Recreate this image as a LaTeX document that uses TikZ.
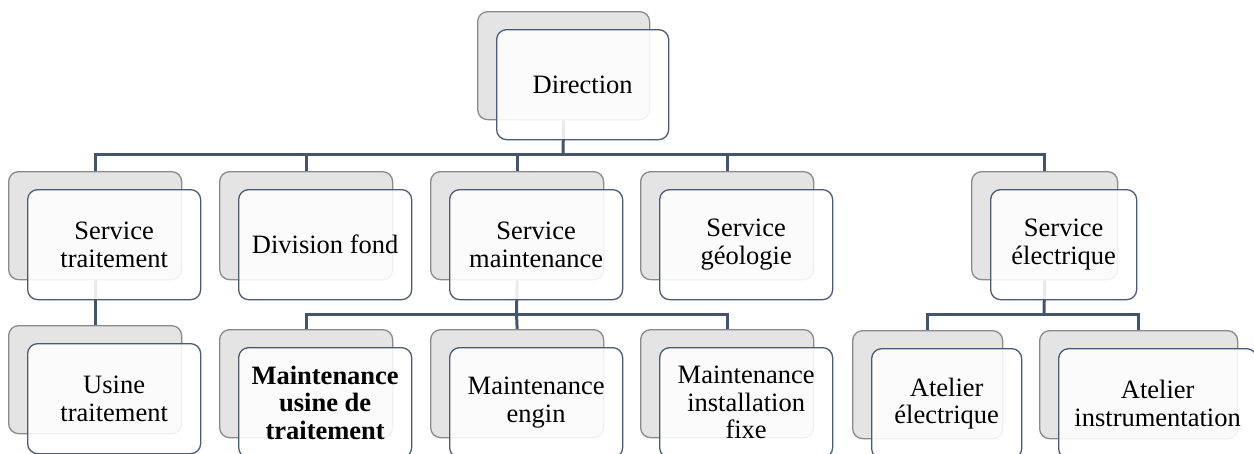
\documentclass[tikz,border=0pt]{standalone}
\usepackage{fontspec}
\usetikzlibrary{backgrounds}
\setmainfont{Liberation Serif}
\newfontfamily\cardserif{Liberation Serif}
\definecolor{backfill}{HTML}{E4E4E4}
\definecolor{backline}{HTML}{8A8A8A}
\definecolor{frontline}{HTML}{4B5A70}
\definecolor{linkc}{HTML}{44546A}
\newcommand{\boxfont}{\cardserif\fontsize{26.5}{27.5}\selectfont}
\tikzset{
  back/.style={draw=backline, fill=backfill, line width=1.3pt, rounded corners=10pt,
    anchor=north west, inner sep=0pt, minimum height=108pt},
  front/.style={draw=frontline, fill=white, fill opacity=0.88, text opacity=1,
    line width=1.3pt, rounded corners=10pt, anchor=north west, inner sep=0pt,
    minimum height=110pt, align=center, font=\boxfont},
  link/.style={draw=linkc, line width=3pt}
}
% a card = grey back plate + white front plate shifted by (19,18)
\newcommand{\card}[5]{% name, x, y, width, text
  \node[back, minimum width=#4pt] (#1b) at (#2,#3) {};
  \node[front, minimum width=#4pt] (#1) at (#2+19,#3+18) {#5};
}
\begin{document}
\begin{tikzpicture}[x=1pt,y=-1pt]
\path[use as bounding box] (0,0) rectangle (1254,453);
\clip (0,0) rectangle (1254,453);

% --- top level
\card{dir}{477}{11}{172}{Direction}
% --- services
\card{st}{8}{171}{173}{Service\\traitement}
\card{df}{219}{171}{173}{Division fond}
\card{sm}{430}{171}{173}{Service\\maintenance}
\card{sg}{640}{171}{173}{Service\\géologie}
\card{se}{971}{171}{146}{Service\\électrique}
% --- units
\card{ut}{8}{325}{173}{Usine\\traitement}
\card{mu}{219}{329}{173}{\bfseries Maintenance\\\bfseries usine de\\\bfseries traitement}
\card{me}{430}{329}{173}{Maintenance\\engin}
\card{mi}{640}{329}{173}{Maintenance\\installation\\fixe}
\card{ae}{852}{330}{150}{Atelier\\électrique}
\card{ai}{1039}{330}{198}{Atelier\\instrumentation}

% --- connectors, behind the plates
\begin{scope}[on background layer]
  \coordinate (bar1) at (563,154);
  \coordinate (bar2) at (516.5,314);
  \coordinate (bar3) at (1044,314);
  \draw[link] (dirb.south) -- (bar1);
  \draw[link] (stb.north) |- (bar1) -| (seb.north);
  \draw[link] (dfb.north) -- (dfb.north |- bar1);
  \draw[link] (smb.north) -- (smb.north |- bar1);
  \draw[link] (sgb.north) -- (sgb.north |- bar1);
  \draw[link] (stb.south) -- (utb.north);
  \draw[link] (smb.south) -- (bar2);
  \draw[link] (mub.north) |- (bar2) -| (mib.north);
  \draw[link] (meb.north) -- (bar2);
  \draw[link] (seb.south) -- (bar3);
  \draw[link] (aeb.north) |- (bar3) -| (aib.north);
\end{scope}
\end{tikzpicture}
\end{document}
